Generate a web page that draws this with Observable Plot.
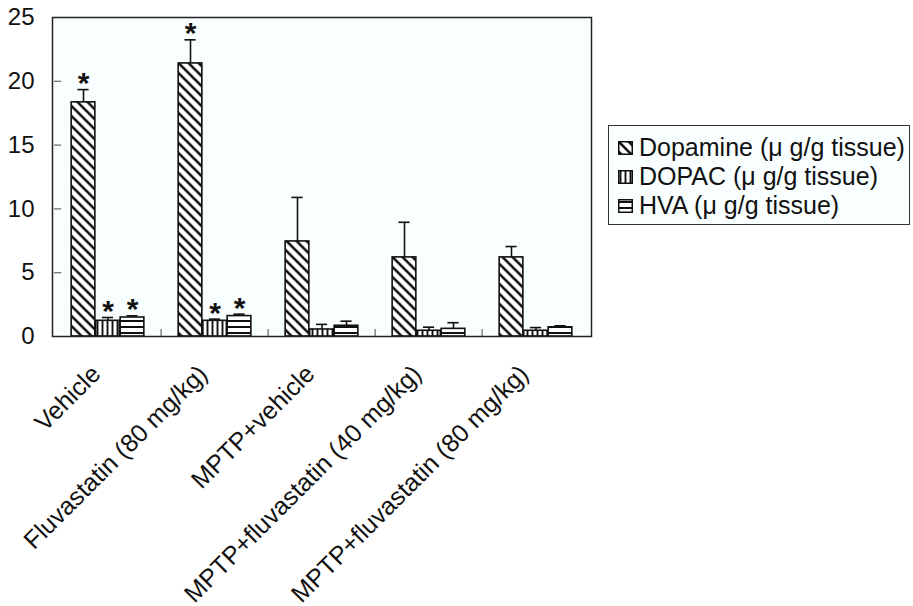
<!DOCTYPE html>
<html><head><meta charset="utf-8">
<script src="https://cdn.jsdelivr.net/npm/d3@7"></script>
<script src="https://cdn.jsdelivr.net/npm/@observablehq/plot@0.6"></script>
<style>
body{margin:0;background:#fff;font-family:"Liberation Sans",Arial,sans-serif;}
#wrap{position:relative;width:913px;height:606px;overflow:hidden;}
#legend{position:absolute;left:608px;top:125px;width:302px;height:100px;border:1px solid #333;background:#f9ffff;box-sizing:border-box;padding-top:7px;}
.row{display:flex;align-items:center;height:29px;font-size:25px;color:#111;white-space:nowrap;}
.row svg{margin-left:9px;margin-right:6px;flex:none;}
</style></head><body>
<div id="wrap"><div id="chart"></div><div id="legend"></div></div>
<script>
const categories = ["Vehicle", "Fluvastatin (80 mg/kg)", "MPTP+vehicle", "MPTP+fluvastatin (40 mg/kg)", "MPTP+fluvastatin (80 mg/kg)"];
const series = ["Dopamine (\u03bc g/g tissue)", "DOPAC (\u03bc g/g tissue)", "HVA (\u03bc g/g tissue)"];
const dopamine    = [18.35, 21.4, 7.45, 6.2, 6.2];
const dopamineErr = [1.0, 1.85, 3.45, 2.75, 0.85];
const dopac       = [1.23, 1.23, 0.55, 0.45, 0.45];
const dopacErr    = [0.26, 0.13, 0.4, 0.28, 0.25];
const hva         = [1.49, 1.6, 0.84, 0.6, 0.72];
const hvaErr      = [0.13, 0.15, 0.36, 0.48, 0.12];
const significant = [true, true, false, false, false];
const yTicks = [0, 5, 10, 15, 20, 25];

const patternIds = ["pat-dop", "pat-dopac", "pat-hva"];
const values = [dopamine, dopac, hva];
const errs = [dopamineErr, dopacErr, hvaErr];

const W = 913, H = 606, ML = 52, MR = 322, MT = 17, MB = 270;
const BW = (W - ML - MR) / categories.length; // band width
const BAR = 24.5, CAP = 12;

const marks = [Plot.frame({fill: "#f9ffff", stroke: "none"})];
series.forEach((s, i) => {
  const rows = categories.map((c, j) => ({cat: c, value: values[i][j], err: errs[i][j], sig: significant[j]}));
  const dx = (i - 1) * BAR;
  marks.push(
    Plot.ruleX(rows, {x: "cat", y1: "value", y2: d => d.value + d.err, dx, stroke: "#111", strokeWidth: 1.6}),
    Plot.tickY(rows, {x: "cat", y: d => d.value + d.err, dx, insetLeft: (BW - CAP) / 2, insetRight: (BW - CAP) / 2, stroke: "#111", strokeWidth: 1.6}),
    Plot.barY(rows, {x: "cat", y: "value", dx, insetLeft: (BW - BAR) / 2, insetRight: (BW - BAR) / 2, fill: `url(#${patternIds[i]})`, stroke: "#111", strokeWidth: 1.6}),
    Plot.text(rows.filter(d => d.sig), {x: "cat", y: d => d.value + d.err, dx, dy: -6, text: () => "*", fontSize: 30, fontWeight: "bold", fill: "#111"})
  );
});
marks.push(
  Plot.tickY(yTicks.slice(1, -1), {x: () => categories[0], y: d => d, insetRight: BW - 8, stroke: "#666", strokeWidth: 1.2}),
  Plot.ruleX(categories.slice(1), {x: d => d, dx: -BW / 2, y1: 0, y2: 0.55, stroke: "#666", strokeWidth: 1.2}),
  Plot.frame({stroke: "#222", strokeWidth: 1.5}),
  Plot.text(categories, {x: d => d, frameAnchor: "bottom", rotate: -45, textAnchor: "end", dx: -6, dy: 39, fontSize: 25, fill: "#111"})
);

const chart = Plot.plot({
  width: W, height: H,
  marginLeft: ML, marginRight: MR, marginTop: MT, marginBottom: MB,
  style: {fontSize: "24px", fontFamily: "'Liberation Sans', Arial, sans-serif", color: "#111", background: "#fff", overflow: "visible"},
  x: {domain: categories, padding: 0, axis: null},
  y: {domain: [0, 25], ticks: yTicks, tickSize: 0, tickPadding: 18, tickFormat: d => String(d), label: null},
  marks
});

const defs = `
<pattern id="pat-dop" patternUnits="userSpaceOnUse" width="10" height="10">
  <rect width="10" height="10" fill="#fff"/>
  <path d="M-2,-2L12,12M-2,8L2,12M8,-2L12,2" stroke="#111" stroke-width="2.6"/>
</pattern>
<pattern id="pat-dopac" patternUnits="userSpaceOnUse" width="5" height="10">
  <rect width="5" height="10" fill="#fff"/>
  <path d="M2.5,0V10" stroke="#111" stroke-width="1.9"/>
</pattern>
<pattern id="pat-hva" patternUnits="userSpaceOnUse" width="10" height="6">
  <rect width="10" height="6" fill="#fff"/>
  <path d="M0,3H10" stroke="#111" stroke-width="2"/>
</pattern>`;
const d = document.createElementNS("http://www.w3.org/2000/svg", "defs");
d.innerHTML = defs;
chart.insertBefore(d, chart.firstChild);
document.getElementById("chart").appendChild(chart);

const legend = document.getElementById("legend");
series.forEach((s, i) => {
  const row = document.createElement("div");
  row.className = "row";
  row.innerHTML = `<svg width="15" height="14"><rect x="0.75" y="0.75" width="13.5" height="12.5" fill="url(#${patternIds[i]})" stroke="#111" stroke-width="1.5"/></svg><span>${s}</span>`;
  legend.appendChild(row);
});
</script>
</body></html>
